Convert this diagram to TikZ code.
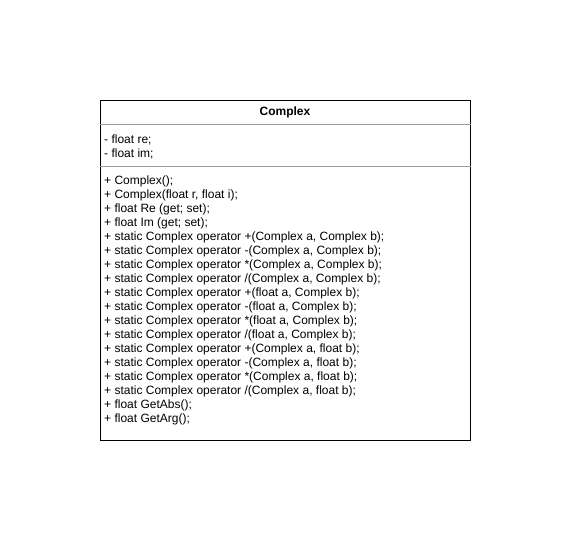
\documentclass[tikz,border=0pt]{standalone}
\usepackage{fontspec}
\setmainfont{Liberation Sans}
\usetikzlibrary{calc}

\begin{document}
\begin{tikzpicture}[x=1pt, y=-1pt,
		classbox/.style={draw, line width=1pt, minimum width=370pt, minimum height=340pt, inner sep=0pt},
		member/.style={anchor=base west, inner sep=0pt, font=\fontsize{12}{14}\selectfont},
		sepline/.style={draw=black!40, line width=1pt}
		]
		\useasboundingbox (0,0) rectangle (571,541);
		
		\node[classbox](cls) at (285,270){};
		\node[font=\fontsize{12}{14}\selectfont\bfseries, inner sep=0pt](title) at (285,112){Complex};
		\draw[sepline] ($(cls.north west)+(0,25)$) coordinate (s1) -- (s1 -| cls.east);
		\draw[sepline] ($(cls.north west)+(0,67)$) coordinate (s2) -- (s2 -| cls.east);
		
		% fields
		\foreach \txt [count=\i] in {{- float re;}, {- float im;}}
		\node[member](f\i) at (104,143.5+14*\i-14){\txt};
		
		% methods
		\foreach \txt [count=\i] in {{+ Complex();}, {+ Complex(float r, float i);},
			{+ float Re (get; set);}, {+ float Im (get; set);},
			{+ static Complex operator +(Complex a, Complex b);},
			{+ static Complex operator -(Complex a, Complex b);},
			{+ static Complex operator *(Complex a, Complex b);},
			{+ static Complex operator /(Complex a, Complex b);},
			{+ static Complex operator +(float a, Complex b);},
			{+ static Complex operator -(float a, Complex b);},
			{+ static Complex operator *(float a, Complex b);},
			{+ static Complex operator /(float a, Complex b);},
			{+ static Complex operator +(Complex a, float b);},
			{+ static Complex operator -(Complex a, float b);},
			{+ static Complex operator *(Complex a, float b);},
			{+ static Complex operator /(Complex a, float b);},
			{+ float GetAbs();}, {+ float GetArg();}}
		\node[member](m\i) at (104,184.5+14*\i-14){\txt};
	\end{tikzpicture}
\end{document}
